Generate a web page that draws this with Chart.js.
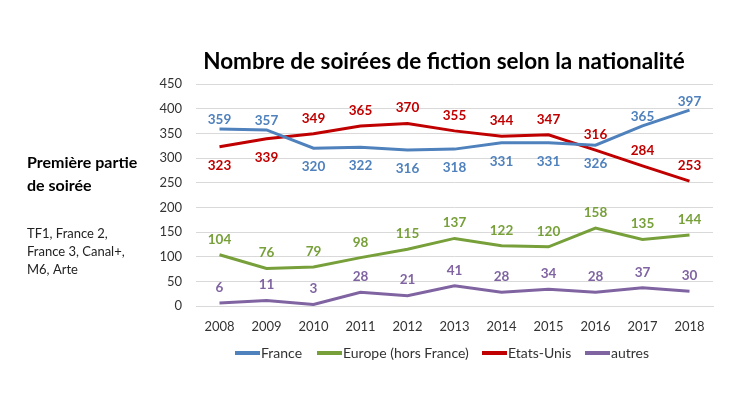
<!DOCTYPE html>
<html><head><meta charset="utf-8">
<script src="https://cdn.jsdelivr.net/npm/chart.js@4.4.0/dist/chart.umd.min.js"></script>
<style>html,body{margin:0;padding:0;background:#fff;}canvas{display:block;}</style>
</head><body>
<canvas id="c" width="750" height="413"></canvas>
<script>
const years = ['2008','2009','2010','2011','2012','2013','2014','2015','2016','2017','2018'];
const france = [359,357,320,322,316,318,331,331,326,365,397];
const europe = [104,76,79,98,115,137,122,120,158,135,144];
const etatsUnis = [323,339,349,365,370,355,344,347,316,284,253];
const autres = [6,11,3,28,21,41,28,34,28,37,30];
const yTicks = [0,50,100,150,200,250,300,350,400,450];

// label placement: 1 = above, -1 = below
const francePos = [1,1,-1,-1,-1,-1,-1,-1,-1,1,1];
const usPos = [-1,-1,1,1,1,1,1,1,1,1,1];
const allAbove = years.map(()=>1);

const FONT = 'Lato, "Open Sans", sans-serif';

const labelPlugin = {
  id:'labels',
  afterDatasetsDraw(chart){
    const ctx = chart.ctx;
    ctx.save();
    ctx.font = 'bold 13.5px ' + FONT;
    ctx.textAlign = 'center';
    ctx.textBaseline = 'middle';
    chart.data.datasets.forEach((ds,i)=>{
      const meta = chart.getDatasetMeta(i);
      meta.data.forEach((pt,j)=>{
        const pos = ds.labelPos[j];
        ctx.fillStyle = ds.borderColor;
        ctx.fillText(String(ds.data[j]), pt.x, pt.y + (pos>0 ? -ds.upOff : 18.5));
      });
    });
    ctx.restore();
  }
};

const decoPlugin = {
  id:'deco',
  afterDraw(chart){
    const ctx = chart.ctx;
    ctx.save();
    ctx.fillStyle = '#000';
    ctx.textBaseline = 'middle';
    ctx.textAlign = 'center';
    ctx.font = 'bold 22.5px ' + FONT;
    ctx.fillText('Nombre de soirées de fiction selon la nationalité', 444, 62);
    ctx.textAlign = 'left';
    ctx.font = 'bold 16px ' + FONT;
    ctx.fillText('Première partie', 27, 163);
    ctx.fillText('de soirée', 27, 186);
    ctx.font = '13px ' + FONT;
    ctx.fillStyle = '#222';
    ctx.fillText('TF1, France 2,', 27, 234);
    ctx.fillText('France 3, Canal+,', 27, 252);
    ctx.fillText('M6, Arte', 27, 270);
    // legend
    const items = [[0,235],[1,317],[2,482],[3,585]];
    ctx.font = '14px ' + FONT;
    items.forEach(([i,x])=>{
      const ds = chart.data.datasets[i];
      ctx.strokeStyle = ds.borderColor;
      ctx.lineWidth = 4;
      ctx.beginPath(); ctx.moveTo(x,353); ctx.lineTo(x+25,353); ctx.stroke();
      ctx.fillStyle = '#333';
      ctx.fillText(ds.label, x+26, 353);
    });
    ctx.restore();
  }
};

const mk = (label,data,color,pos,upOff)=>({label,data,borderColor:color,backgroundColor:color,borderWidth:3,pointRadius:0,tension:0,fill:false,labelPos:pos,upOff});

new Chart(document.getElementById('c'),{
  type:'line',
  data:{labels:years,datasets:[
    mk('France',france,'#4F81BD',francePos,9),
    mk('Europe (hors France)',europe,'#77A03A',allAbove,15.5),
    mk('Etats-Unis',etatsUnis,'#C00000',usPos,15.5),
    mk('autres',autres,'#8064A2',allAbove,15.5)
  ]},
  options:{
    responsive:false,animation:false,
    layout:{padding:{left:150,right:37,top:84,bottom:77}},
    plugins:{legend:{display:false},title:{display:false},tooltip:{enabled:false}},
    scales:{
      x:{offset:true,grid:{display:false},border:{color:'#d9d9d9'},
         ticks:{color:'#333',font:{family:FONT,size:13},padding:5,maxRotation:0},
         afterFit(s){s.height=30;}},
      y:{min:0,max:450,afterBuildTicks(s){s.ticks=yTicks.map(v=>({value:v}));},
         grid:{color:'#d9d9d9',drawTicks:false},border:{display:false},
         ticks:{color:'#333',font:{family:FONT,size:13},padding:14},
         afterFit(s){s.width=46;}}
    }
  },
  plugins:[labelPlugin,decoPlugin]
});
</script>
</body></html>
